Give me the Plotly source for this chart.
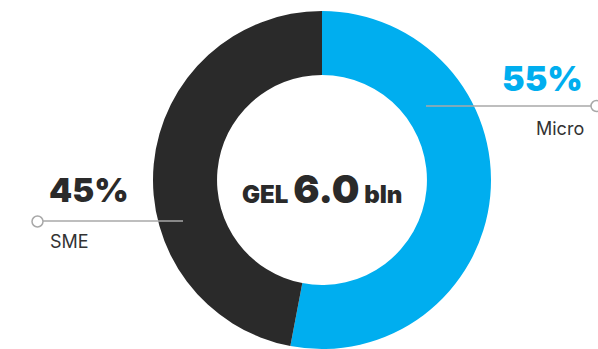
import plotly.graph_objects as go

W, H = 598, 349

categories = ["Micro", "SME"]
shares = [53, 47]
share_labels = ["55%", "45%"]
colors = ["#00AEEF", "#2A2A2A"]
center_amount = "6.0"
center_currency = "GEL"
center_unit = "bln"

FONT = "Inter"

def px(x):
    return x / W

def py(y):
    return 1 - y / H

fig = go.Figure()
fig.add_trace(go.Pie(
    labels=categories,
    values=shares,
    hole=0.621,
    sort=False,
    direction="clockwise",
    rotation=0,
    marker=dict(colors=colors, line=dict(width=0)),
    textinfo="none",
    hoverinfo="label+percent",
    showlegend=False,
    domain=dict(x=[px(322 - 169), px(322 + 169)], y=[0, 338 / H]),
))

grey = "#A8A8A8"
# leader lines
fig.add_shape(type="line", xref="paper", yref="paper",
              x0=px(42), x1=px(183), y0=py(221), y1=py(221),
              line=dict(color=grey, width=1.5))
fig.add_shape(type="circle", xref="paper", yref="paper",
              x0=px(32), x1=px(43), y0=py(216), y1=py(227),
              line=dict(color=grey, width=1.5), fillcolor="white")
fig.add_shape(type="line", xref="paper", yref="paper",
              x0=px(426), x1=px(591), y0=py(106), y1=py(106),
              line=dict(color=grey, width=1.5))
fig.add_shape(type="circle", xref="paper", yref="paper",
              x0=px(591), x1=px(602), y0=py(100.5), y1=py(111.5),
              line=dict(color=grey, width=1.5), fillcolor="white")

ann = []
# Micro
ann.append(dict(x=px(585), y=py(78), xref="paper", yref="paper",
                text=share_labels[0], showarrow=False,
                xanchor="right", yanchor="middle",
                font=dict(family=FONT, size=34, weight=900, color=colors[0])))
ann.append(dict(x=px(586), y=py(129), xref="paper", yref="paper",
                text=categories[0], showarrow=False,
                xanchor="right", yanchor="middle",
                font=dict(family=FONT, size=18, color="#333333")))
# SME
ann.append(dict(x=px(47), y=py(190), xref="paper", yref="paper",
                text=share_labels[1], showarrow=False,
                xanchor="left", yanchor="middle",
                font=dict(family=FONT, size=33, weight=900, color="#2A2A2A")))
ann.append(dict(x=px(48), y=py(242), xref="paper", yref="paper",
                text=categories[1], showarrow=False,
                xanchor="left", yanchor="middle",
                font=dict(family=FONT, size=18, color="#333333")))
# center
ann.append(dict(x=px(322), y=py(188), xref="paper", yref="paper",
                text=(f"{center_currency} <span style='font-size:39px'>{center_amount}</span> "
                      f"{center_unit}"),
                showarrow=False, xanchor="center", yanchor="middle",
                font=dict(family=FONT, size=24, weight=900, color="#2A2A2A")))

fig.update_layout(
    width=W, height=H,
    margin=dict(l=0, r=0, t=0, b=0),
    paper_bgcolor="white", plot_bgcolor="white",
    annotations=ann,
)

fig.write_html("out.html", config={"displayModeBar": False})
